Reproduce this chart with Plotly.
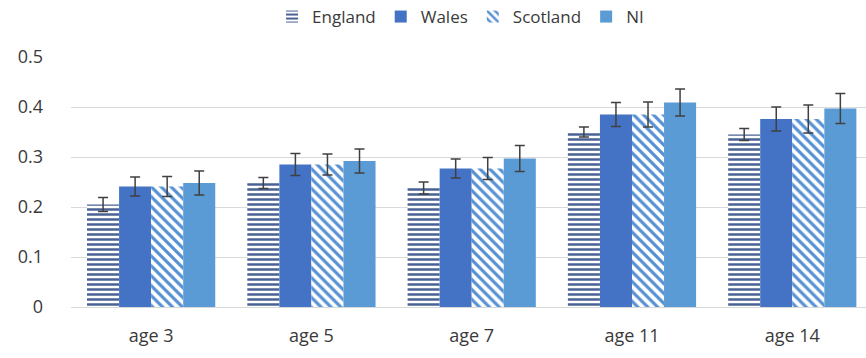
import plotly.graph_objects as go

# Category labels and series values
ages = ["age 3", "age 5", "age 7", "age 11", "age 14"]

england = [0.205, 0.248, 0.238, 0.350, 0.345]
england_err = [0.014, 0.011, 0.012, 0.010, 0.012]

wales = [0.241, 0.285, 0.277, 0.385, 0.376]
wales_err = [0.019, 0.022, 0.019, 0.024, 0.024]

scotland = [0.241, 0.285, 0.277, 0.385, 0.376]
scotland_err = [0.020, 0.021, 0.022, 0.025, 0.028]

ni = [0.248, 0.292, 0.297, 0.409, 0.397]
ni_err = [0.024, 0.024, 0.026, 0.027, 0.030]

font_family = "Open Sans, Liberation Sans, sans-serif"
text_color = "#3a3a3a"
err_color = "#404040"


def err(vals):
    return dict(type="data", array=vals, visible=True, color=err_color,
                thickness=1.5, width=5)


fig = go.Figure()

fig.add_trace(go.Bar(
    name="England", x=ages, y=england, error_y=err(england_err),
    marker=dict(color="white", line=dict(width=0),
                pattern=dict(shape="-", fgcolor="#4a6193", bgcolor="white",
                             size=5, solidity=0.5, fillmode="replace")),
))
fig.add_trace(go.Bar(
    name="Wales", x=ages, y=wales, error_y=err(wales_err),
    marker=dict(color="#4472c4", line=dict(width=0)),
))
fig.add_trace(go.Bar(
    name="Scotland", x=ages, y=scotland, error_y=err(scotland_err),
    marker=dict(color="white", line=dict(width=0),
                pattern=dict(shape="\\", fgcolor="#5590d2", bgcolor="white",
                             size=7, solidity=0.45, fillmode="replace")),
))
fig.add_trace(go.Bar(
    name="NI", x=ages, y=ni, error_y=err(ni_err),
    marker=dict(color="#5b9bd5", line=dict(width=0)),
))

fig.update_layout(
    width=866, height=358,
    margin=dict(l=71, r=0, t=57, b=51),
    paper_bgcolor="white", plot_bgcolor="white",
    barmode="group", bargap=0.2, bargroupgap=0,
    font=dict(family=font_family, size=18, color=text_color),
    legend=dict(orientation="h", xref="paper", x=0.49, xanchor="center",
                yref="container", y=1 - 17 / 358, yanchor="middle",
                font=dict(size=17, color=text_color),
                itemwidth=30, traceorder="normal"),
    showlegend=True,
)

fig.update_xaxes(
    range=[-0.5, 4.46], showgrid=False, showline=False, zeroline=False,
    ticks="", ticklabelstandoff=16,
    tickfont=dict(size=18, color=text_color),
)
fig.update_yaxes(
    range=[0, 0.5], dtick=0.1, tickformat="~g",
    showgrid=True, gridcolor="#d9d9d9", gridwidth=1,
    zeroline=True, zerolinecolor="#d9d9d9", zerolinewidth=1,
    showline=False, ticks="", ticklabelstandoff=27,
    tickfont=dict(size=18, color=text_color),
)

fig.write_html("out.html")
